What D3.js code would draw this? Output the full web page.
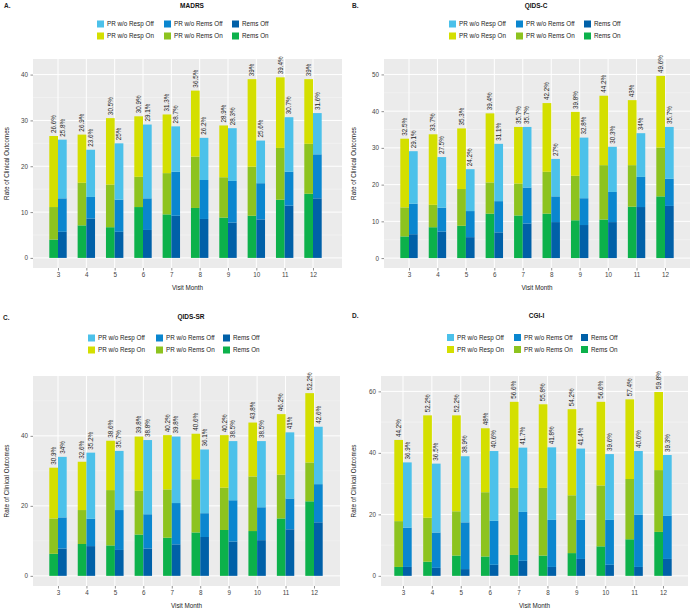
<!DOCTYPE html>
<html>
<head>
<meta charset="utf-8">
<script src="https://cdn.jsdelivr.net/npm/d3@7/dist/d3.min.js"></script>
<style>
  html, body { margin: 0; padding: 0; background: #fff; }
  text { font-family: "Liberation Sans", Arial, sans-serif; }
</style>
</head>
<body>
<script>
// ---------------- DATA ----------------
const months = [3, 4, 5, 6, 7, 8, 9, 10, 11, 12];
const seriesKeys = ["rems", "prRems", "prResp"];
const legendRowOff = ["PR w/o Resp Off", "PR w/o Rems Off", "Rems Off"];
const legendRowOn = ["PR w/o Resp On", "PR w/o Rems On", "Rems On"];
const panelTitles = ["MADRS", "QIDS-C", "QIDS-SR", "CGI-I"];
const panelLetters = ["A.", "B.", "C.", "D."];
const yTicksA = [0, 10, 20, 30, 40];
const yTicksB = [0, 10, 20, 30, 40, 50];
const yTicksC = [0, 20, 40];
const yTicksD = [0, 20, 40, 60];

// MADRS
const madrsRemsOn   = [4.0, 7.1, 6.7, 11.1, 9.5, 10.9, 8.8, 9.2, 12.7, 14.0];
const madrsPrRemsOn = [7.1, 9.3, 9.3, 6.6, 9.0, 11.2, 8.8, 10.7, 11.3, 10.9];
const madrsPrRespOn = [15.5, 10.5, 14.5, 13.2, 12.8, 14.4, 11.3, 19.1, 15.4, 14.1];
const madrsRemsOff   = [5.7, 8.6, 5.7, 6.1, 9.2, 8.5, 7.7, 8.4, 11.4, 13.0];
const madrsPrRemsOff = [7.3, 4.7, 7.0, 6.9, 9.6, 8.5, 9.1, 7.9, 7.4, 9.6];
const madrsPrRespOff = [12.8, 10.3, 12.3, 16.1, 9.9, 9.2, 11.5, 9.3, 11.9, 9.0];

// QIDS-C
const qidscRemsOn   = [5.9, 8.4, 8.8, 12.1, 11.6, 12.1, 10.3, 10.5, 14.0, 16.8];
const qidscPrRemsOn = [7.9, 6.1, 10.0, 8.5, 8.7, 11.4, 12.1, 14.8, 11.3, 13.3];
const qidscPrRespOn = [18.7, 19.2, 16.5, 18.8, 15.4, 18.7, 17.4, 18.9, 17.7, 19.5];
const qidscRemsOff   = [6.5, 7.2, 5.7, 7.0, 9.4, 9.8, 9.0, 9.8, 13.9, 14.2];
const qidscPrRemsOff = [8.3, 6.5, 7.1, 8.5, 9.8, 7.0, 7.3, 8.2, 8.2, 7.4];
const qidscPrRespOff = [14.3, 13.8, 11.4, 15.6, 16.5, 10.2, 16.5, 12.3, 11.9, 14.1];

// QIDS-SR
const qidssrRemsOn   = [6.3, 9.1, 8.7, 11.8, 10.9, 12.4, 13.1, 12.8, 16.4, 21.3];
const qidssrPrRemsOn = [10.1, 9.7, 15.8, 12.5, 13.8, 15.2, 12.1, 15.6, 12.5, 11.1];
const qidssrPrRespOn = [14.5, 13.8, 14.1, 15.5, 15.5, 13.0, 15.0, 15.4, 17.3, 19.8];
const qidssrRemsOff   = [7.8, 8.5, 7.4, 7.8, 9.0, 11.1, 9.8, 10.2, 13.3, 15.3];
const qidssrPrRemsOff = [8.9, 7.8, 11.4, 9.8, 11.8, 6.8, 11.8, 9.4, 8.8, 10.9];
const qidssrPrRespOff = [17.3, 18.9, 16.9, 21.2, 19.0, 18.2, 16.9, 18.9, 18.9, 16.4];

// CGI-I
const cgiRemsOn   = [2.9, 4.6, 6.6, 6.3, 6.8, 6.6, 7.4, 9.6, 11.9, 14.3];
const cgiPrRemsOn = [14.9, 14.3, 14.4, 20.9, 21.8, 22.0, 18.8, 19.8, 19.6, 20.1];
const cgiPrRespOn = [26.4, 33.3, 31.2, 20.8, 28.0, 27.2, 28.0, 27.2, 25.9, 25.4];
const cgiRemsOff   = [2.9, 2.6, 2.2, 3.6, 4.9, 2.9, 5.5, 3.6, 2.9, 5.5];
const cgiPrRemsOff = [12.8, 11.5, 15.2, 14.3, 15.9, 15.3, 12.7, 14.6, 17.0, 14.0];
const cgiPrRespOff = [21.2, 22.4, 21.5, 22.7, 20.9, 23.6, 23.2, 21.4, 20.7, 19.8];

// ---------------- STYLE / LAYOUT ----------------
const colors = {
  On:  { rems: "#0CB14B", prRems: "#8DC31F", prResp: "#D4DF00" },
  Off: { rems: "#0060A8", prRems: "#0A86CF", prResp: "#4CC1EA" }
};
const legendColors = [
  [colors.Off.prResp, colors.Off.prRems, colors.Off.rems],
  [colors.On.prResp, colors.On.prRems, colors.On.rems]
];

const panels = [
  { title: panelTitles[0], letter: panelLetters[0], ticks: yTicksA,
    on: [madrsRemsOn, madrsPrRemsOn, madrsPrRespOn], off: [madrsRemsOff, madrsPrRemsOff, madrsPrRespOff],
    l: 33, r: 342, t: 59, b: 268, x3: 58, x12: 313, yDom: [-2.2, 43.4],
    titleX: 192, titleY: 7.5, letterX: 4, letterY: 7.5, legY: [24, 36], legX: [97, 164, 232],
    yLabX: 7 },
  { title: panelTitles[1], letter: panelLetters[1], ticks: yTicksB,
    on: [qidscRemsOn, qidscPrRemsOn, qidscPrRespOn], off: [qidscRemsOff, qidscPrRemsOff, qidscPrRespOff],
    l: 384, r: 690, t: 59, b: 268, x3: 409, x12: 665, yDom: [-2.7, 54.2],
    titleX: 536, titleY: 7.5, letterX: 352, letterY: 7.5, legY: [24, 36], legX: [449, 516, 584],
    yLabX: 354 },
  { title: panelTitles[2], letter: panelLetters[2], ticks: yTicksC,
    on: [qidssrRemsOn, qidssrPrRemsOn, qidssrPrRespOn], off: [qidssrRemsOff, qidssrPrRemsOff, qidssrPrRespOff],
    l: 33, r: 340, t: 376, b: 586, x3: 58, x12: 314, yDom: [-2.9, 57.1],
    titleX: 191, titleY: 318.5, letterX: 3, letterY: 320, legY: [338, 350], legX: [88, 156, 223],
    yLabX: 7 },
  { title: panelTitles[3], letter: panelLetters[3], ticks: yTicksD,
    on: [cgiRemsOn, cgiPrRemsOn, cgiPrRespOn], off: [cgiRemsOff, cgiPrRemsOff, cgiPrRespOff],
    l: 381, r: 688, t: 376, b: 586, x3: 403, x12: 663, yDom: [-3.3, 65.0],
    titleX: 536.5, titleY: 318, letterX: 352, letterY: 318, legY: [337.5, 349.5], legX: [447, 514, 581],
    yLabX: 354 }
];

const FS = 6.3;
const svg = d3.select("body").append("svg").attr("width", 691).attr("height", 610);

function fmtPct(v) { return (+v.toFixed(1)) + "%"; }

panels.forEach(p => {
  const g = svg.append("g");
  const x = d3.scalePoint().domain(months).range([p.x3, p.x12]);
  const inner = d3.scaleBand().domain(["On", "Off"]).range([-8.7, 8.7]);
  const y = d3.scaleLinear().domain(p.yDom).range([p.b, p.t]);

  // Letter & title
  g.append("text").attr("x", p.letterX).attr("y", p.letterY)
    .attr("font-size", 6.5).attr("font-weight", "bold").attr("fill", "#222").text(p.letter);
  g.append("text").attr("x", p.titleX).attr("y", p.titleY).attr("text-anchor", "middle")
    .attr("font-size", 6.5).attr("font-weight", "bold").attr("fill", "#111").text(p.title);

  // Legend
  [legendRowOff, legendRowOn].forEach((row, ri) => {
    row.forEach((lab, ci) => {
      g.append("rect").attr("x", p.legX[ci]).attr("y", p.legY[ri] - 3.5)
        .attr("width", 7).attr("height", 7).attr("fill", legendColors[ri][ci]);
      g.append("text").attr("x", p.legX[ci] + 10).attr("y", p.legY[ri])
        .attr("dy", "0.35em").attr("font-size", FS).attr("fill", "#222").text(lab);
    });
  });

  // Panel background
  g.append("rect").attr("x", p.l).attr("y", p.t).attr("width", p.r - p.l).attr("height", p.b - p.t)
    .attr("fill", "#EBEBEB");

  const step = p.ticks[1] - p.ticks[0];
  // Minor gridlines
  const minor = d3.range(p.ticks[0] + step / 2, p.yDom[1], step);
  g.selectAll(null).data(minor).join("line")
    .attr("x1", p.l).attr("x2", p.r).attr("y1", d => y(d)).attr("y2", d => y(d))
    .attr("stroke", "#F7F7F7").attr("stroke-width", 0.5);
  // Major gridlines
  g.selectAll(null).data(p.ticks).join("line")
    .attr("x1", p.l).attr("x2", p.r).attr("y1", d => y(d)).attr("y2", d => y(d))
    .attr("stroke", "#FFFFFF").attr("stroke-width", 1);
  g.selectAll(null).data(months).join("line")
    .attr("x1", d => x(d)).attr("x2", d => x(d)).attr("y1", p.t).attr("y2", p.b)
    .attr("stroke", "#FFFFFF").attr("stroke-width", 1);

  // Bars
  [["On", p.on], ["Off", p.off]].forEach(([grp, arrs]) => {
    const rows = months.map((m, i) => ({ month: m, rems: arrs[0][i], prRems: arrs[1][i], prResp: arrs[2][i] }));
    const stacked = d3.stack().keys(seriesKeys)(rows);
    stacked.forEach(layer => {
      g.selectAll(null).data(layer).join("rect")
        .attr("x", d => x(d.data.month) + inner(grp))
        .attr("width", inner.bandwidth())
        .attr("y", d => y(d[1]))
        .attr("height", d => y(d[0]) - y(d[1]))
        .attr("fill", colors[grp][layer.key]);
    });
    const top = stacked[stacked.length - 1];
    g.selectAll(null).data(top).join("text")
      .attr("transform", d => `translate(${x(d.data.month) + inner(grp) + inner.bandwidth() / 2},${y(d[1]) - 3}) rotate(-90)`)
      .attr("dy", "0.35em")
      .attr("font-size", FS).attr("fill", "#222")
      .text(d => fmtPct(d[1]));
  });

  // Axes
  const yAxis = g.append("g").attr("transform", `translate(${p.l},0)`)
    .call(d3.axisLeft(y).tickValues(p.ticks).tickSize(2.5).tickPadding(2.5));
  const xAxis = g.append("g").attr("transform", `translate(0,${p.b})`)
    .call(d3.axisBottom(x).tickSize(2.5).tickPadding(2.5));
  [yAxis, xAxis].forEach(a => {
    a.select(".domain").remove();
    a.selectAll(".tick line").attr("stroke", "#444").attr("stroke-width", 0.6);
    a.selectAll(".tick text").attr("font-size", FS).attr("fill", "#444")
      .attr("font-family", "Liberation Sans, Arial, sans-serif");
  });

  // Axis titles
  g.append("text").attr("x", (p.l + p.r) / 2).attr("y", p.b + 20).attr("dy", "0.35em")
    .attr("text-anchor", "middle").attr("font-size", FS).attr("fill", "#222").text("Visit Month");
  g.append("text").attr("transform", `translate(${p.yLabX},${(p.t + p.b) / 2}) rotate(-90)`)
    .attr("dy", "0.35em").attr("text-anchor", "middle").attr("font-size", FS).attr("fill", "#222")
    .text("Rate of Clinical Outcomes");
});
</script>
</body>
</html>
